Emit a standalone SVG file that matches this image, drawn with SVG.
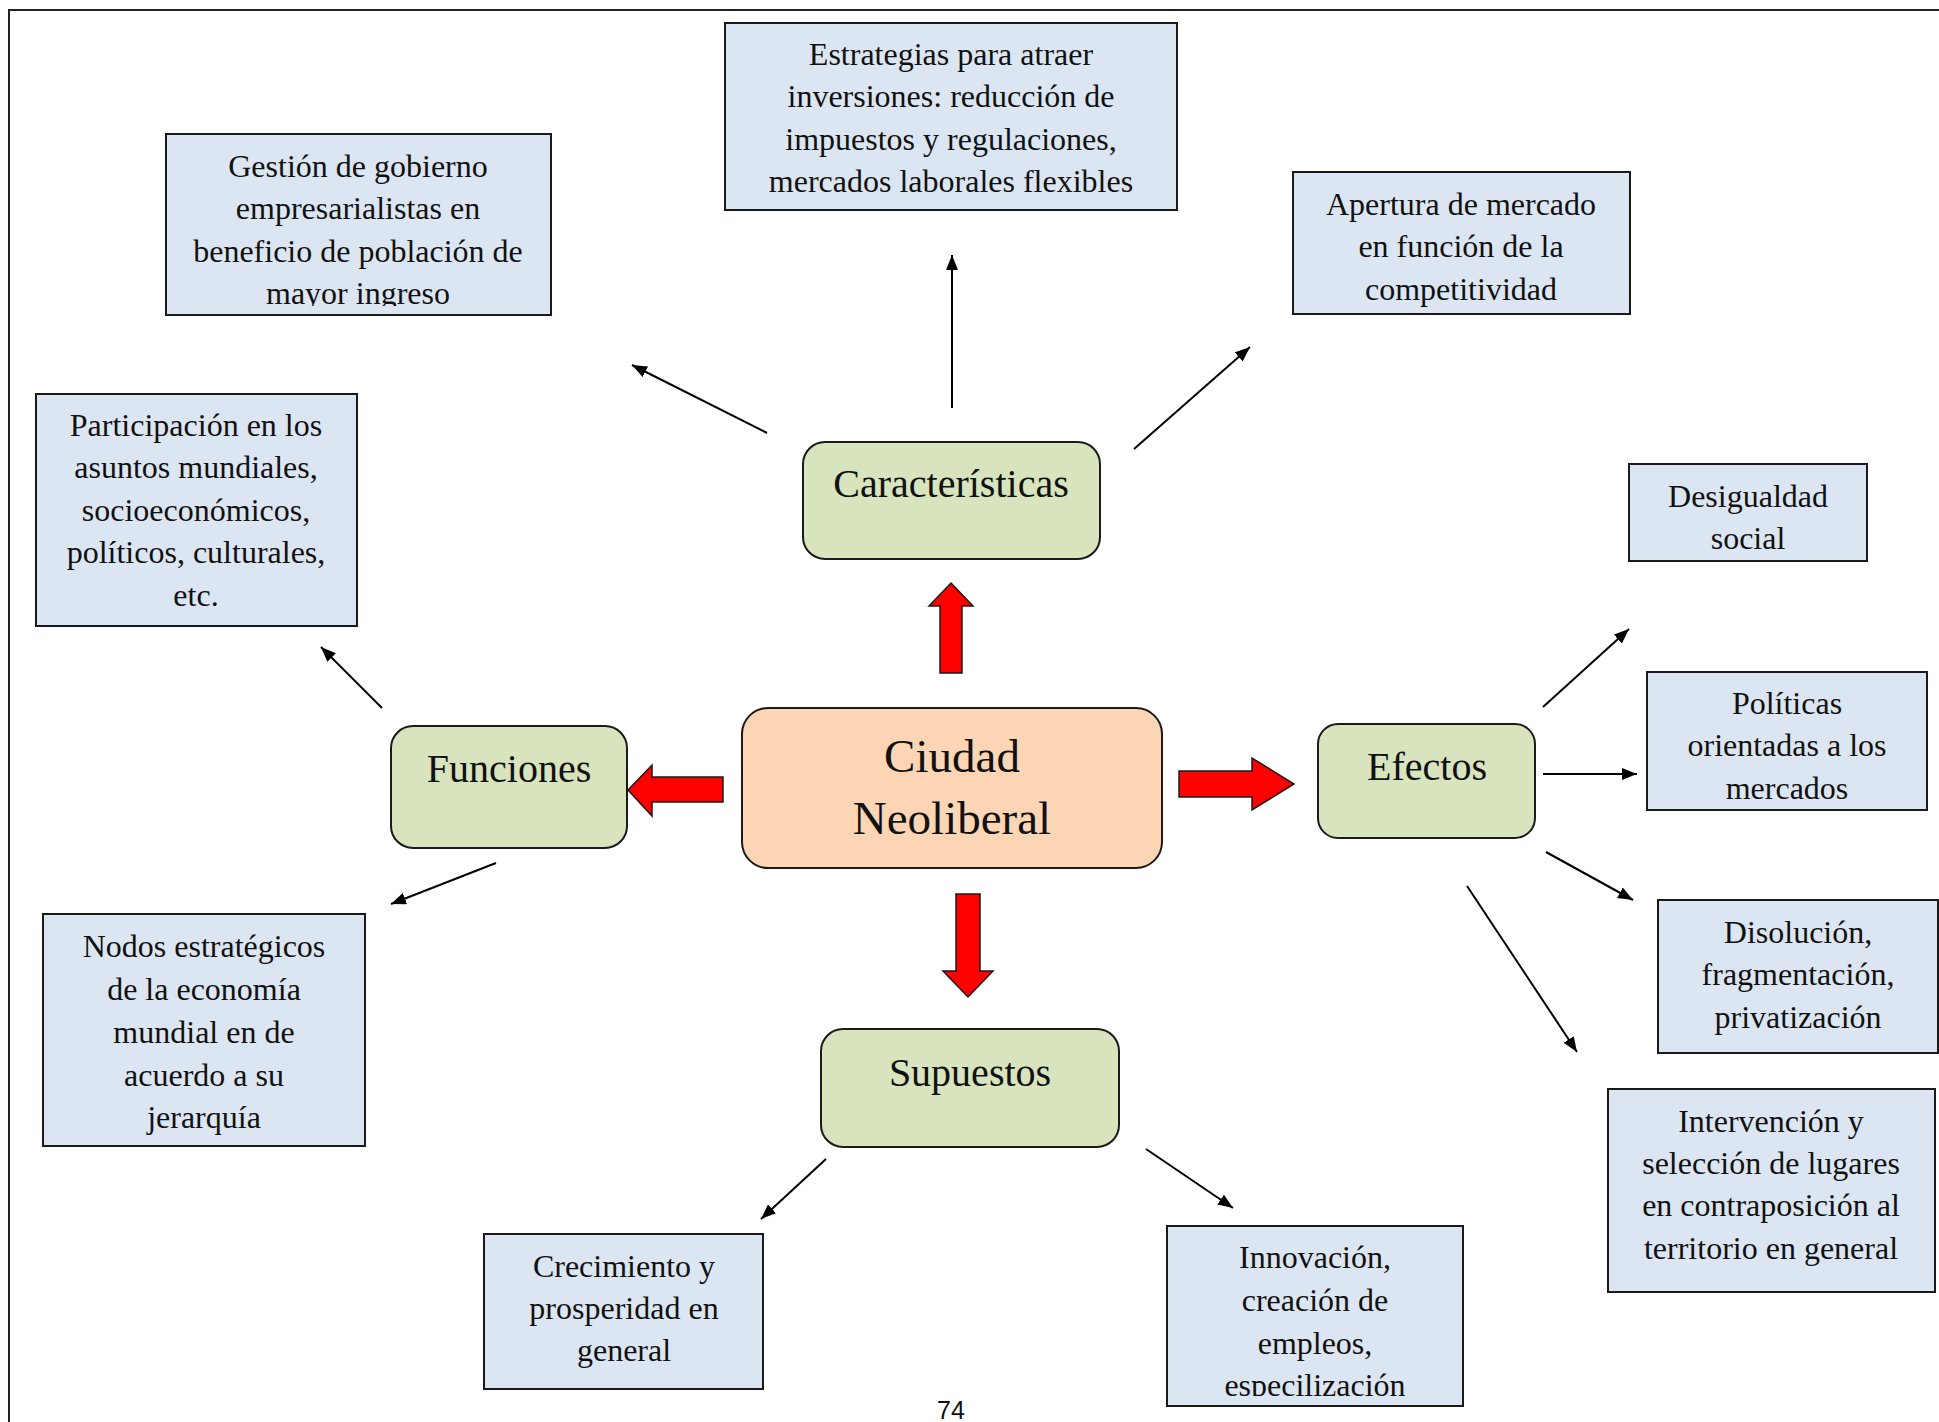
<svg xmlns="http://www.w3.org/2000/svg" width="1939" height="1422" viewBox="0 0 1939 1422">
<style>
.box{fill:#dce6f2;stroke:#1a1a1a;stroke-width:2}
.grn{fill:#d7e4bd;stroke:#1a1a1a;stroke-width:2}
.pch{fill:#fcd5b5;stroke:#1a1a1a;stroke-width:2}
.red{fill:#ff0000;stroke:#1a1a1a;stroke-width:1.5;stroke-linejoin:miter}
.t{font-family:"Liberation Serif","Times New Roman",serif;font-size:32px;fill:#111;text-anchor:middle}
.tg{font-family:"Liberation Serif","Times New Roman",serif;font-size:40px;fill:#111;text-anchor:middle}
.tc{font-family:"Liberation Serif","Times New Roman",serif;font-size:47px;fill:#111;text-anchor:middle}
.ln{stroke:#000;stroke-width:2;fill:none;marker-end:url(#ah)}
</style>
<defs>
<marker id="ah" markerUnits="userSpaceOnUse" markerWidth="16" markerHeight="12" refX="15" refY="6" orient="auto">
<path d="M0,0 L15,6 L0,12 z" fill="#000"/>
</marker>
<clipPath id="cg"><rect x="166" y="134" width="385" height="172"/></clipPath>
<clipPath id="ci"><rect x="1167" y="1226" width="296" height="170"/></clipPath>
</defs>
<rect x="0" y="0" width="1939" height="1422" fill="#fff"/>
<path d="M9,1422 L9,10 L1939,10" fill="none" stroke="#222" stroke-width="2"/>

<g id="connectors">
<line class="ln" x1="767" y1="433" x2="632" y2="365"/>
<line class="ln" x1="952" y1="408" x2="952" y2="255"/>
<line class="ln" x1="1134" y1="449" x2="1250" y2="347"/>
<line class="ln" x1="382" y1="708" x2="321" y2="647"/>
<line class="ln" x1="496" y1="863" x2="391" y2="904"/>
<line class="ln" x1="1543" y1="707" x2="1629" y2="629"/>
<line class="ln" x1="1543" y1="774" x2="1637" y2="774"/>
<line class="ln" x1="1546" y1="852" x2="1633" y2="900"/>
<line class="ln" x1="1467" y1="886" x2="1577" y2="1052"/>
<line class="ln" x1="826" y1="1159" x2="761" y2="1219"/>
<line class="ln" x1="1146" y1="1149" x2="1233" y2="1208"/>
<polygon class="red" points="951,583 973,606 962,606 962,673 940,673 940,606 929,606"/>
<polygon class="red" points="956,894 980,894 980,971 993,971 968,997 943,971 956,971"/>
<polygon class="red" points="1179,771 1252,771 1252,758 1294,784 1252,810 1252,797 1179,797"/>
<polygon class="red" points="723,777 652,777 652,765 628,790 652,816 652,802 723,802"/>
</g>

<g id="ciudad">
<rect class="pch" x="742" y="708" width="420" height="160" rx="26"/>
<text class="tc" x="952" y="772">Ciudad</text>
<text class="tc" x="952" y="834">Neoliberal</text>
</g>

<g id="caracteristicas">
<rect class="grn" x="803" y="442" width="297" height="117" rx="22"/>
<text class="tg" x="951" y="497">Características</text>
</g>

<g id="funciones">
<rect class="grn" x="391" y="726" width="236" height="122" rx="22"/>
<text class="tg" x="509" y="782">Funciones</text>
</g>

<g id="efectos">
<rect class="grn" x="1318" y="724" width="217" height="114" rx="20"/>
<text class="tg" x="1427" y="780">Efectos</text>
</g>

<g id="supuestos">
<rect class="grn" x="821" y="1029" width="298" height="118" rx="22"/>
<text class="tg" x="970" y="1086">Supuestos</text>
</g>

<g id="gestion">
<rect class="box" x="166" y="134" width="385" height="181"/>
<g clip-path="url(#cg)">
<text class="t" x="358" y="177">Gestión de gobierno</text>
<text class="t" x="358" y="219">empresarialistas en</text>
<text class="t" x="358" y="262">beneficio de población de</text>
<text class="t" x="358" y="304">mayor ingreso</text>
</g>
</g>

<g id="estrategias">
<rect class="box" x="725" y="23" width="452" height="187"/>
<text class="t" x="951" y="65">Estrategias para atraer</text>
<text class="t" x="951" y="107">inversiones: reducción de</text>
<text class="t" x="951" y="150">impuestos y regulaciones,</text>
<text class="t" x="951" y="192">mercados laborales flexibles</text>
</g>

<g id="apertura">
<rect class="box" x="1293" y="172" width="337" height="142"/>
<text class="t" x="1461" y="215">Apertura de mercado</text>
<text class="t" x="1461" y="257">en función de la</text>
<text class="t" x="1461" y="300">competitividad</text>
</g>

<g id="desigualdad">
<rect class="box" x="1629" y="464" width="238" height="97"/>
<text class="t" x="1748" y="507">Desigualdad</text>
<text class="t" x="1748" y="549">social</text>
</g>

<g id="participacion">
<rect class="box" x="36" y="394" width="321" height="232"/>
<text class="t" x="196" y="436">Participación en los</text>
<text class="t" x="196" y="478">asuntos mundiales,</text>
<text class="t" x="196" y="521">socioeconómicos,</text>
<text class="t" x="196" y="563">políticos, culturales,</text>
<text class="t" x="196" y="606">etc.</text>
</g>

<g id="nodos">
<rect class="box" x="43" y="914" width="322" height="232"/>
<text class="t" x="204" y="957">Nodos estratégicos</text>
<text class="t" x="204" y="1000">de la economía</text>
<text class="t" x="204" y="1043">mundial en de</text>
<text class="t" x="204" y="1086">acuerdo a su</text>
<text class="t" x="204" y="1128">jerarquía</text>
</g>

<g id="politicas">
<rect class="box" x="1647" y="672" width="280" height="138"/>
<text class="t" x="1787" y="714">Políticas</text>
<text class="t" x="1787" y="756">orientadas a los</text>
<text class="t" x="1787" y="799">mercados</text>
</g>

<g id="disolucion">
<rect class="box" x="1658" y="900" width="280" height="153"/>
<text class="t" x="1798" y="943">Disolución,</text>
<text class="t" x="1798" y="985">fragmentación,</text>
<text class="t" x="1798" y="1028">privatización</text>
</g>

<g id="intervencion">
<rect class="box" x="1608" y="1089" width="327" height="203"/>
<text class="t" x="1771" y="1132">Intervención y</text>
<text class="t" x="1771" y="1174">selección de lugares</text>
<text class="t" x="1771" y="1216">en contraposición al</text>
<text class="t" x="1771" y="1259">territorio en general</text>
</g>

<g id="crecimiento">
<rect class="box" x="484" y="1234" width="279" height="155"/>
<text class="t" x="624" y="1277">Crecimiento y</text>
<text class="t" x="624" y="1319">prosperidad en</text>
<text class="t" x="624" y="1361">general</text>
</g>

<g id="innovacion">
<rect class="box" x="1167" y="1226" width="296" height="180"/>
<g clip-path="url(#ci)">
<text class="t" x="1315" y="1268">Innovación,</text>
<text class="t" x="1315" y="1311">creación de</text>
<text class="t" x="1315" y="1354">empleos,</text>
<text class="t" x="1315" y="1396">especilización</text>
</g>
</g>

<text x="951" y="1419" font-family="'Liberation Sans',Arial,sans-serif" font-size="25" fill="#111" text-anchor="middle">74</text>
</svg>
